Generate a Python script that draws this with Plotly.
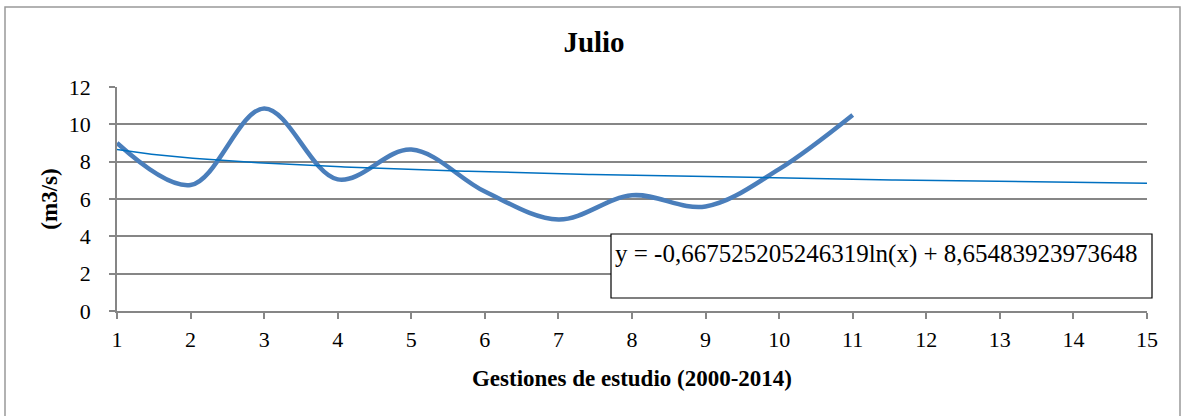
import numpy as np
import plotly.graph_objects as go

gestiones = [1, 2, 3, 4, 5, 6, 7, 8, 9, 10, 11]
caudal = [9.0, 6.75, 10.85, 7.05, 8.65, 6.4, 4.9, 6.2, 5.6, 7.6, 10.5]
x_ticks = list(range(1, 16))
y_ticks = [0, 2, 4, 6, 8, 10, 12]
trend_a = -0.667525205246319
trend_b = 8.65483923973648
trend_label = "y = -0,667525205246319ln(x) + 8,65483923973648"

xt = np.linspace(1, 15, 300)
yt = trend_a * np.log(xt) + trend_b

FONT = "'Liberation Serif', 'Times New Roman', Times, serif"

fig = go.Figure()
fig.add_trace(go.Scatter(x=gestiones, y=caudal, mode="lines",
                         line=dict(color="#4A7EBB", width=4.5, shape="spline", smoothing=1.0),
                         showlegend=False, hoverinfo="skip"))
fig.add_trace(go.Scatter(x=xt, y=yt, mode="lines",
                         line=dict(color="#0070C0", width=1.5),
                         showlegend=False, hoverinfo="skip"))

L, R, T, B = 117, 36, 87, 105
W, H = 1183, 416
pw, ph = W - L - R, H - T - B

def px(xp):
    return (xp - L) / pw

def py(yp):
    return (H - B - yp) / ph

# outer border
fig.add_shape(type="rect", xref="paper", yref="paper",
              x0=px(5), x1=px(1180), y0=py(440), y1=py(7),
              line=dict(color="#999999", width=1.5), fillcolor="rgba(0,0,0,0)", layer="below")
# equation box
fig.add_shape(type="rect", xref="paper", yref="paper",
              x0=px(611), x1=px(1152), y0=py(298), y1=py(234),
              line=dict(color="black", width=1.2), fillcolor="white", layer="above")
fig.add_annotation(xref="paper", yref="paper", x=px(613), y=py(238), xanchor="left", yanchor="top",
                   text=trend_label, showarrow=False, font=dict(family=FONT, size=25, color="black"))

fig.update_layout(
    width=W, height=H,
    margin=dict(l=L, r=R, t=T, b=B),
    paper_bgcolor="white", plot_bgcolor="white",
    title=dict(text="<b>Julio</b>", xref="container", yref="container",
               x=594 / W, xanchor="center", y=1 - 42 / H, yanchor="middle",
               font=dict(family=FONT, size=29, color="black")),
    font=dict(family=FONT, color="black", size=22),
)
fig.update_xaxes(range=[1, 15], tickmode="array", tickvals=x_ticks,
                 showgrid=False, showline=True, linecolor="#868686", linewidth=1.5,
                 ticks="outside", ticklen=6, tickcolor="#868686", tickwidth=1.5,
                 ticklabelstandoff=2,
                 tickfont=dict(family=FONT, size=22, color="black"), zeroline=False,
                 title=dict(text="<b>Gestiones de estudio (2000-2014)</b>", standoff=19,
                            font=dict(family=FONT, size=23, color="black")))
fig.update_yaxes(range=[0, 12], tickmode="array", tickvals=y_ticks,
                 showgrid=True, gridcolor="#868686", gridwidth=1.5,
                 showline=True, linecolor="#868686", linewidth=1.5,
                 ticks="outside", ticklen=6, tickcolor="#868686", tickwidth=1.5,
                 ticklabelstandoff=14,
                 tickfont=dict(family=FONT, size=22, color="black"), zeroline=False,
                 title=dict(text="<b>(m3/s)</b>", standoff=5,
                            font=dict(family=FONT, size=23, color="black")))

fig.write_html("out.html", config={"displayModeBar": False},
               post_script="document.body.style.margin='0';")
